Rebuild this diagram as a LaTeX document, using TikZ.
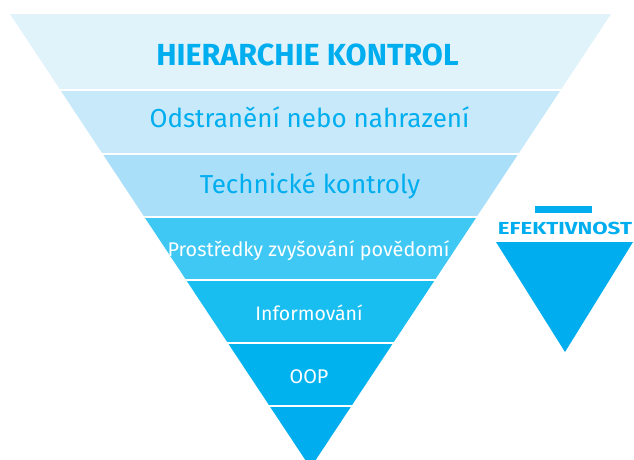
\documentclass[tikz,border=0pt]{standalone}
\usepackage{fontspec}
\usepackage{graphicx}
\setmainfont{Fira Sans}
\definecolor{ecblue}{HTML}{00AEEF}
\definecolor{bandA}{HTML}{E0F3FB}
\definecolor{bandB}{HTML}{C7E9FA}
\definecolor{bandC}{HTML}{A9DFF9}
\definecolor{bandD}{HTML}{40C8F4}
\definecolor{bandE}{HTML}{19BEF0}
\definecolor{bandF}{HTML}{00B2EE}
\definecolor{bandG}{HTML}{00AEEF}
\tikzset{
  lbl/.style={anchor=base, inner sep=0pt, font=\fontsize{#1}{#1}\selectfont},
  boldlbl/.style={anchor=base, inner sep=0pt, font=\bfseries\fontsize{#1}{#1}\selectfont},
  bluelbl/.style={lbl=#1, text=ecblue},
  whitelbl/.style={lbl=#1, text=white},
}
% one horizontal slice of the inverted pyramid
\newcommand{\pyrband}[3]{%
  \begin{scope}
    \clip (0,#1) rectangle (634,#2);
    \fill[#3] (TL) -- (TR) -- (AP) -- cycle;
  \end{scope}}
\begin{document}
\begin{tikzpicture}[x=1pt,y=-1pt]
\useasboundingbox (0,0) rectangle (634,459);
\coordinate (TL) at (10,14);
\coordinate (TR) at (611,14);
\coordinate (AP) at (310.5,467.8);

\pyrband{14}{88}{bandA}
\pyrband{91}{152}{bandB}
\pyrband{155}{215}{bandC}
\pyrband{218}{278}{bandD}
\pyrband{281}{341}{bandE}
\pyrband{344}{404}{bandF}
\pyrband{407}{470}{bandG}

\node[boldlbl=30.5, text=ecblue] (title) at (307.5,65) {HIERARCHIE KONTROL};
\node[bluelbl=26] (elim) at (309.5,127) {Odstranění nebo nahrazení};
\node[bluelbl=26] (tech) at (310,193) {Technické kontroly};
\node[whitelbl=19.8] (aware) at (308.5,256) {Prostředky zvyšování povědomí};
\node[whitelbl=19.5] (info) at (309,320) {Informování};
\node[whitelbl=19.8] (ppe) at (309,383) {OOP};

% effectiveness indicator
\fill[ecblue] (535,206) rectangle (592,213);
\node[boldlbl=17.4, text=ecblue] (eff) at (565,234) {\resizebox{134pt}{\height}{EFEKTIVNOST}};
\coordinate (EL) at (496,242);
\coordinate (ER) at (633,242);
\coordinate (EA) at (565,352);
\fill[ecblue] (EL) -- (ER) -- (EA) -- cycle;
\end{tikzpicture}
\end{document}
